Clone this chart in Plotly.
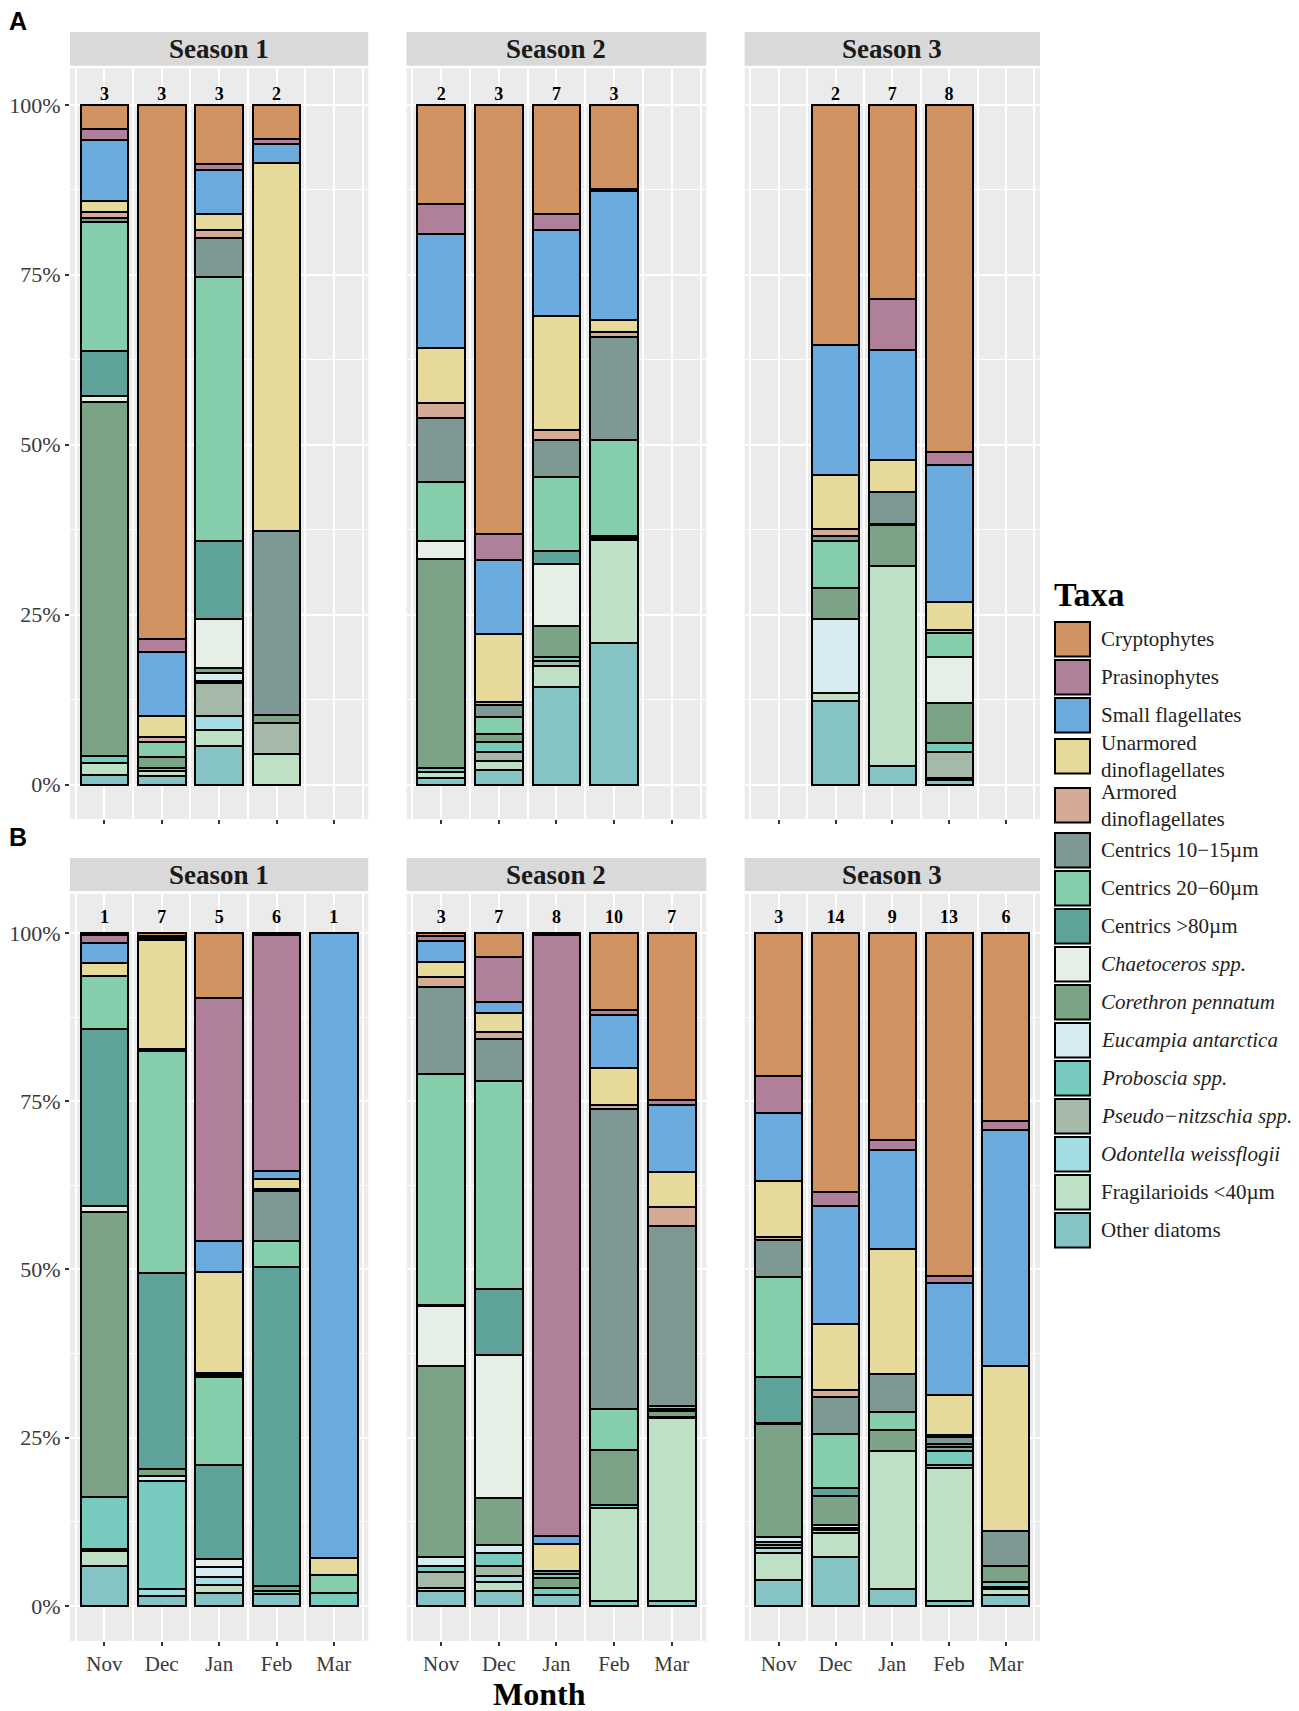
import plotly.graph_objects as go

# ---------------- data ----------------
MONTHS = ["Nov", "Dec", "Jan", "Feb", "Mar"]

TAXA = ["Cryptophytes", "Prasinophytes", "Small flagellates", "Unarmored dinoflagellates",
        "Armored dinoflagellates", "Centrics 10\u221215\u00b5m", "Centrics 20\u221260\u00b5m",
        "Centrics >80\u00b5m", "Chaetoceros spp.", "Corethron pennatum", "Eucampia antarctica",
        "Proboscia spp.", "Pseudo\u2212nitzschia spp.", "Odontella weissflogii",
        "Fragilarioids <40\u00b5m", "Other diatoms"]
LEGEND_LABELS = ["Cryptophytes", "Prasinophytes", "Small flagellates", "Unarmored<br>dinoflagellates",
                 "Armored<br>dinoflagellates", "Centrics 10\u221215\u00b5m", "Centrics 20\u221260\u00b5m",
                 "Centrics >80\u00b5m", "<i>Chaetoceros spp.</i>", "<i>Corethron pennatum</i>",
                 "<i>Eucampia antarctica</i>", "<i>Proboscia spp.</i>", "<i>Pseudo\u2212nitzschia spp.</i>",
                 "<i>Odontella weissflogii</i>", "Fragilarioids <40\u00b5m", "Other diatoms"]
COLORS = ["#D09260", "#B07F9A", "#6AAADD", "#E6D99C", "#D4AA94", "#7E9893", "#86CDAC",
          "#5EA29A", "#E6EFE6", "#7BA386", "#D5EBEF", "#77CBBE", "#A4B9A8", "#A4DCE3",
          "#BEE0C4", "#86C3C4"]

# Panel A (first survey), percent composition; one row per month, columns follow TAXA
A_S1_MONTHS = ["Nov", "Dec", "Jan", "Feb"]
A_S1_COUNTS = [3, 3, 3, 2]
A_S1_VALUES = [
    [3.5, 1.7, 9.0, 1.5, 1.0, 0.5, 19.0, 6.6, 0.9, 52.0, 0, 1.0, 0, 0, 1.8, 1.4],
    [78.6, 1.9, 9.4, 3.1, 0.8, 0, 2.2, 0, 0, 1.5, 0, 0.5, 0, 0, 0.8, 1.2],
    [8.7, 0.9, 6.5, 2.3, 1.2, 5.8, 38.9, 11.6, 7.2, 0.7, 1.2, 0.3, 4.9, 2.1, 2.3, 5.7],
    [5.0, 0.8, 2.8, 54.2, 0, 27.1, 0, 0, 0, 1.2, 0, 0, 4.6, 0, 4.5, 0],
]
A_S2_MONTHS = ["Nov", "Dec", "Jan", "Feb"]
A_S2_COUNTS = [2, 3, 7, 3]
A_S2_VALUES = [
    [14.6, 4.5, 16.7, 8.1, 2.3, 9.4, 8.7, 0, 2.6, 30.9, 0, 0.5, 0, 0, 0.9, 1.0],
    [63.2, 3.8, 10.8, 10.1, 0.4, 1.8, 2.4, 0, 0, 1.2, 0, 1.5, 1.3, 0, 1.4, 2.1],
    [16.1, 2.3, 12.7, 16.7, 1.5, 5.4, 10.9, 1.9, 9.2, 4.5, 0, 0.6, 0.7, 0, 3.1, 14.4],
    [12.3, 0.4, 18.9, 1.7, 0.7, 15.1, 14.2, 0, 0.3, 0.3, 0, 0, 0, 0, 15.1, 20.7],
]
A_S3_MONTHS = ["Dec", "Jan", "Feb"]
A_S3_COUNTS = [2, 7, 8]
A_S3_VALUES = [
    [35.3, 0, 19.1, 8.0, 1.0, 0.7, 6.9, 0, 0, 4.5, 10.9, 0, 0, 0, 1.2, 12.3],
    [28.6, 7.5, 16.1, 4.7, 0, 4.7, 0, 0.2, 0, 6.1, 0, 0, 0, 0, 29.4, 2.7],
    [50.9, 1.9, 20.1, 4.2, 0.4, 0, 3.5, 0, 6.7, 5.9, 0, 1.4, 3.7, 0, 0.4, 0.6],
]

# Panel B (second survey)
B_S1_MONTHS = ["Nov", "Dec", "Jan", "Feb", "Mar"]
B_S1_COUNTS = [1, 7, 5, 6, 1]
B_S1_VALUES = [
    [0.3, 1.2, 3.0, 1.9, 0, 0, 7.8, 26.4, 0.9, 42.3, 0, 7.8, 0, 0.3, 2.2, 5.9],
    [0.5, 0.3, 0.3, 16.1, 0.2, 0.2, 32.9, 29.2, 0, 1.0, 0.8, 15.9, 0, 1.1, 0, 1.5],
    [9.7, 36.1, 4.5, 15.1, 0.25, 0.25, 13.1, 14.0, 1.2, 0, 1.5, 0, 0, 1.2, 1.2, 1.9],
    [0.3, 35.0, 1.3, 1.5, 0.3, 7.3, 3.9, 47.5, 0, 0.6, 0, 0.5, 0, 0, 0, 1.8],
    [0, 0, 92.9, 2.5, 0, 0, 2.7, 0, 0, 0, 0, 1.9, 0, 0, 0, 0],
]
B_S2_MONTHS = ["Nov", "Dec", "Jan", "Feb", "Mar"]
B_S2_COUNTS = [3, 7, 8, 10, 7]
B_S2_VALUES = [
    [0.5, 0.7, 3.1, 2.2, 1.5, 12.9, 34.2, 0.2, 8.8, 28.3, 1.3, 0.9, 2.4, 0, 0.5, 2.2],
    [3.5, 6.7, 1.7, 2.8, 1.0, 6.3, 30.9, 9.7, 21.3, 7.0, 1.1, 2.0, 1.4, 1.0, 1.3, 2.2],
    [0.3, 89.3, 1.2, 4.0, 0, 0.5, 0.5, 0, 0, 1.5, 0, 1.0, 0, 0, 0, 1.7],
    [11.5, 0.7, 7.9, 5.4, 0.6, 44.7, 6.0, 0, 0, 8.2, 0, 0.5, 0, 0, 13.8, 0.7],
    [24.7, 0.7, 10.0, 5.1, 2.8, 26.7, 0.5, 0, 0.3, 0.8, 0, 0.2, 0, 0, 27.0, 0.8],
]
B_S3_MONTHS = ["Nov", "Dec", "Jan", "Feb", "Mar"]
B_S3_COUNTS = [3, 14, 9, 13, 6]
B_S3_VALUES = [
    [21.2, 5.6, 10.1, 8.3, 0.5, 5.4, 15.0, 6.8, 0.2, 16.7, 0.8, 0.4, 0.4, 0.8, 4.1, 3.8],
    [38.5, 2.0, 17.6, 9.8, 1.1, 5.4, 8.1, 1.1, 0, 4.4, 0.4, 0.3, 0, 0.4, 3.6, 7.3],
    [30.8, 1.5, 14.6, 18.6, 0, 5.6, 2.8, 0, 0, 3.0, 0, 0, 0, 0, 20.6, 2.5],
    [51.0, 1.0, 16.7, 5.9, 0.3, 1.0, 0, 0.5, 0, 0.6, 0, 2.0, 0.5, 0, 19.7, 0.8],
    [27.9, 1.4, 35.0, 24.6, 0, 5.2, 0, 0, 0, 2.4, 0, 0.7, 0, 0.3, 0.8, 1.7],
]

SEASONS = ["Season 1", "Season 2", "Season 3"]
Y_TICKS = [0, 25, 50, 75, 100]
Y_TICKTEXT = ["0%", "25%", "50%", "75%", "100%"]

FACETS = [
    (A_S1_MONTHS, A_S1_COUNTS, A_S1_VALUES), (A_S2_MONTHS, A_S2_COUNTS, A_S2_VALUES),
    (A_S3_MONTHS, A_S3_COUNTS, A_S3_VALUES), (B_S1_MONTHS, B_S1_COUNTS, B_S1_VALUES),
    (B_S2_MONTHS, B_S2_COUNTS, B_S2_VALUES), (B_S3_MONTHS, B_S3_COUNTS, B_S3_VALUES),
]

# ---------------- geometry / style ----------------
W, H = 1299, 1711
ML, MR, MT, MB = 62, 267, 24, 78
PW, PH = W - ML - MR, H - MT - MB
SERIF = "Liberation Serif"
X_DOMAINS = [[0.0, 0.3075], [0.3470, 0.6560], [0.6955, 1.0]]
Y_DOMAINS = [[0.5109, 0.9775], [0.0, 0.4643]]
STRIP_Y = [[0.9790, 1.0], [0.4661, 0.4866]]
Y_RANGES = [[-5.07, 105.39], [-5.2, 105.8]]
COUNT_Y = [101.3, 102.1]

fig = go.Figure()

for k, (months, counts, values) in enumerate(FACETS):
    xa, ya = f"x{k + 1}", f"y{k + 1}"
    xs = [MONTHS.index(m) for m in months]
    for i in reversed(range(len(TAXA))):
        ys = [row[i] if row[i] else None for row in values]
        fig.add_trace(go.Bar(
            x=xs, y=ys, name=TAXA[i], xaxis=xa, yaxis=ya, width=0.83,
            marker=dict(color=COLORS[i], line=dict(color="black", width=2)),
            showlegend=False, hovertemplate=TAXA[i] + ": %{y:.1f}%<extra></extra>"))
    fig.add_trace(go.Scatter(
        x=xs, y=[COUNT_Y[k // 3]] * len(xs), text=[str(c) for c in counts], mode="text",
        textposition="middle center", xaxis=xa, yaxis=ya, cliponaxis=False,
        textfont=dict(family=SERIF, size=18, color="black", weight="bold"),
        showlegend=False, hoverinfo="skip"))

layout = dict(
    width=W, height=H, barmode="stack", barnorm="percent",
    margin=dict(l=ML, r=MR, t=MT, b=MB, autoexpand=False),
    paper_bgcolor="white", plot_bgcolor="#EBEBEB",
    font=dict(family=SERIF, color="#222"),
    showlegend=False,
)

minor_x = [j - 0.5 for j in range(len(MONTHS) + 1)]
for k in range(6):
    r, c = divmod(k, 3)
    layout[f"xaxis{k + 1}"] = dict(
        domain=X_DOMAINS[c], anchor=f"y{k + 1}", range=[-0.6, len(MONTHS) - 0.4],
        tickmode="array", tickvals=list(range(len(MONTHS))), ticktext=MONTHS,
        showticklabels=(r == 1), ticks="outside", ticklen=4, tickwidth=1.5, tickcolor="#333",
        tickfont=dict(family=SERIF, size=21, color="#3a3a3a"), automargin=False,
        showgrid=True, gridcolor="white", gridwidth=1.6, zeroline=False, showline=False,
        minor=dict(tickmode="array", tickvals=minor_x, showgrid=True, gridcolor="white",
                   gridwidth=1.6, ticks=""),
    )
    layout[f"yaxis{k + 1}"] = dict(
        domain=Y_DOMAINS[r], anchor=f"x{k + 1}", range=Y_RANGES[r],
        tickmode="array", tickvals=Y_TICKS, ticktext=Y_TICKTEXT,
        showticklabels=(c == 0), ticks="outside" if c == 0 else "", ticklen=4, tickwidth=1.5,
        tickcolor="#333", tickfont=dict(family=SERIF, size=22, color="#3a3a3a"),
        automargin=False,
        showgrid=True, gridcolor="white", gridwidth=1.6, zeroline=False, showline=False,
        minor=dict(tickmode="array", tickvals=[12.5, 37.5, 62.5, 87.5], showgrid=True,
                   gridcolor="white", gridwidth=0.9, ticks=""),
    )

fig.update_layout(**layout)


def px_x(px):
    return (px - ML) / PW


def px_y(px):
    return (H - MB - px) / PH


shapes, annotations = [], []
# facet strips
for r in range(2):
    for c in range(3):
        shapes.append(dict(type="rect", xref="paper", yref="paper",
                           x0=X_DOMAINS[c][0], x1=X_DOMAINS[c][1],
                           y0=STRIP_Y[r][0], y1=STRIP_Y[r][1],
                           fillcolor="#D9D9D9", line=dict(width=0), layer="below"))
        annotations.append(dict(xref="paper", yref="paper",
                                x=(X_DOMAINS[c][0] + X_DOMAINS[c][1]) / 2,
                                y=(STRIP_Y[r][0] + STRIP_Y[r][1]) / 2,
                                xanchor="center", yanchor="middle",
                                text=f"<b>{SEASONS[c]}</b>", showarrow=False,
                                font=dict(family=SERIF, size=27, color="#1a1a1a")))

# panel letters
for letter, ypx in (("A", 13), ("B", 829)):
    annotations.append(dict(xref="paper", yref="paper", x=px_x(0), y=px_y(ypx),
                            xanchor="left", yanchor="middle", text=f"<b>{letter}</b>",
                            showarrow=False, borderpad=0,
                            font=dict(family="Liberation Sans", size=25, color="black")))

# x axis title
annotations.append(dict(xref="paper", yref="paper", x=px_x(531), y=px_y(1686),
                        text="<b>Month</b>", showarrow=False, xanchor="center", yanchor="middle",
                        font=dict(family=SERIF, size=32, color="black")))

# legend (drawn in paper space)
annotations.append(dict(xref="paper", yref="paper", x=px_x(1044), y=px_y(586), xanchor="left",
                        yanchor="middle", text="<b>Taxa</b>", showarrow=False,
                        font=dict(family=SERIF, size=34, color="black")))
top = 614
sw = 34.5
for i, lab in enumerate(LEGEND_LABELS):
    double = "<br>" in lab
    shapes.append(dict(type="rect", xref="paper", yref="paper",
                       x0=px_x(1047), x1=px_x(1082), y0=px_y(top + sw), y1=px_y(top),
                       fillcolor=COLORS[i], line=dict(color="black", width=2)))
    annotations.append(dict(xref="paper", yref="paper", x=px_x(1091), y=px_y(top + sw / 2),
                            xanchor="left", yanchor="middle", text=lab, showarrow=False,
                            align="left",
                            font=dict(family=SERIF, size=21, color="#222")))
    if i + 1 < len(LEGEND_LABELS):
        nxt_double = "<br>" in LEGEND_LABELS[i + 1]
        step = 38
        if double and nxt_double:
            step = 49
        elif double:
            step = 45
        elif nxt_double:
            step = 41
        top += step

fig.update_layout(shapes=shapes, annotations=annotations)
fig.write_html("out.html")
